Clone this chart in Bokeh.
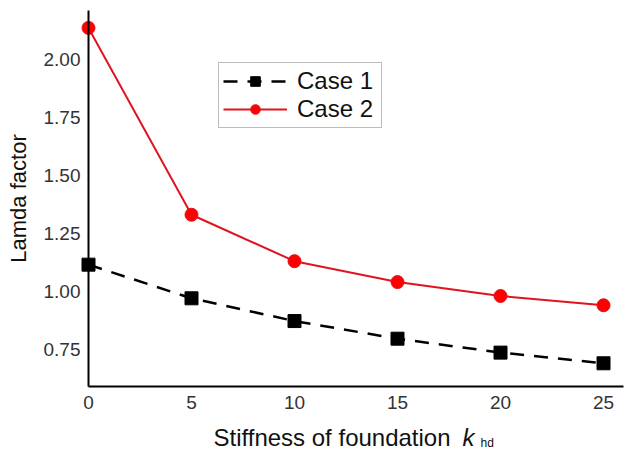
from bokeh.plotting import figure
from bokeh.models import Range1d, NumeralTickFormatter, FixedTicker, Label, Legend, LegendItem
from bokeh.embed import file_html
from bokeh.resources import INLINE

x_vals = [0, 5, 10, 15, 20, 25]
case1 = [1.115, 0.970, 0.872, 0.796, 0.736, 0.690]
case2 = [2.135, 1.330, 1.130, 1.040, 0.980, 0.940]
x_ticks = [0, 5, 10, 15, 20, 25]
y_ticks = [0.75, 1.00, 1.25, 1.50, 1.75, 2.00]
x_lo, x_hi = 0, 25.97
y_lo, y_hi = 0.59, 2.21
x_title = "Stiffness of foundation"
x_title_var = "k"
x_title_sub = "hd"
y_title = "Lamda factor"

FONT = "Liberation Sans"

# The frame covers the whole canvas so that every text drawn as a label stays visible;
# both axes are pinned at the data origin of the chart with fixed_location and bounds.
W, H = 631, 450
left_m, right_m, top_m, bottom_m = 88, 8, 10, 64
axis_w, axis_h = W - left_m - right_m, H - top_m - bottom_m
xu = (x_hi - x_lo) / axis_w
yu = (y_hi - y_lo) / axis_h

p = figure(frame_width=W, frame_height=H, output_backend="svg", toolbar_location=None,
           x_range=Range1d(x_lo - left_m * xu, x_hi + right_m * xu),
           y_range=Range1d(y_lo - bottom_m * yu, y_hi + top_m * yu),
           min_border=0)
p.outline_line_color = None
p.grid.visible = False

for ax in (p.xaxis[0], p.yaxis[0]):
    ax.axis_line_color = "black"
    ax.axis_line_width = 2
    ax.major_tick_line_color = None
    ax.minor_tick_line_color = None
    ax.major_label_text_font = FONT
    ax.major_label_text_font_size = "19px"
    ax.major_label_text_color = "#333333"
    ax.axis_label_text_font = FONT
    ax.axis_label_text_font_style = "normal"
    ax.axis_label_text_font_size = "22px"
    ax.axis_label_text_color = "#111111"

p.xaxis.ticker = FixedTicker(ticks=x_ticks)
p.xaxis.fixed_location = y_lo
p.xaxis.bounds = (x_lo, x_hi)
p.yaxis.ticker = FixedTicker(ticks=y_ticks)
p.yaxis.fixed_location = x_lo
p.yaxis.bounds = (y_lo, y_hi)
p.yaxis.formatter = NumeralTickFormatter(format="0.00")
p.xaxis.major_label_standoff = 3
p.yaxis.major_label_standoff = 2
p.yaxis.axis_label = y_title
p.yaxis.axis_label_standoff = 10

l1 = p.line(x_vals, case1, line_color="black", line_width=2.5, line_dash="14 10")
s1 = p.scatter(x_vals, case1, marker="square", size=13, fill_color="black", line_color="black")
l2 = p.line(x_vals, case2, line_color="#e0141e", line_width=2)
s2 = p.scatter(x_vals, case2, marker="circle", size=13, fill_color="#ff0000", line_color="#e0141e")

legend = Legend(items=[LegendItem(label="Case 1", renderers=[l1, s1]),
                       LegendItem(label="Case 2", renderers=[l2, s2])],
                location=(218, 322), label_text_font=FONT, label_text_font_size="24px",
                label_text_color="#111111", glyph_width=64, glyph_height=24, label_height=24,
                label_width=80, spacing=0, padding=4, margin=0, label_standoff=10,
                border_line_color="#777777", border_line_width=1.5, background_fill_alpha=1)
p.add_layout(legend, "center")

# x axis title: plain part, italic k, subscript hd (screen units from the frame's bottom-left)
common = dict(x_units="screen", y_units="screen", text_font=FONT, text_color="#111111",
              text_baseline="alphabetic", text_align="left")
p.add_layout(Label(x=213, y=13, text=x_title, text_font_size="24px", **common))
p.add_layout(Label(x=462, y=13, text=x_title_var, text_font_size="24px",
                   text_font_style="italic", **common))
p.add_layout(Label(x=480, y=8, text=x_title_sub, text_font_size="12px", **common))

open("out.html", "w").write(file_html(p, INLINE))
